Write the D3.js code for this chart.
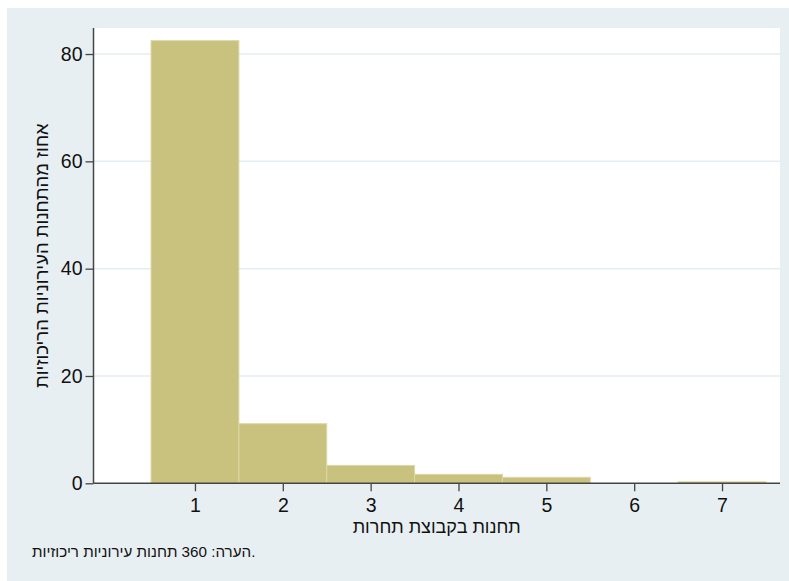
<!DOCTYPE html>
<html><head><meta charset="utf-8">
<script src="https://cdn.jsdelivr.net/npm/d3@7"></script>
<style>body{margin:0;background:#fff;} text{font-family:"Liberation Sans",Arial,sans-serif;fill:#111;}</style>
</head><body>
<svg id="c" width="789" height="581"></svg>
<script>
const categories = [1, 2, 3, 4, 5, 6, 7];
const percents = [82.5, 11.11, 3.33, 1.67, 1.11, 0, 0.28];
const yTicks = [0, 20, 40, 60, 80];
const xTicks = [1, 2, 3, 4, 5, 6, 7];
const yTitle = "אחוז מהתחנות העירוניות הריכוזיות";
const xTitle = "תחנות בקבוצת תחרות";
const note = "הערה: 360 תחנות עירוניות ריכוזיות.";

const svg = d3.select("#c");
const L = 93.5, R = 780, T = 28, B = 483.3;
svg.append("rect").attr("x",7).attr("y",8).attr("width",782).attr("height",573).attr("fill","#e8eff2");
svg.append("rect").attr("x",L).attr("y",T).attr("width",R-L).attr("height",B-T).attr("fill","#fff");

const x = d3.scaleLinear().domain([-0.155, 7.66]).range([L, R]);
const y = d3.scaleLinear().domain([0, 84.85]).range([B, T]);

// gridlines
svg.append("g").selectAll("line").data(yTicks.filter(d=>d>0)).join("line")
  .attr("x1",L).attr("x2",R).attr("y1",d=>y(d)).attr("y2",d=>y(d))
  .attr("stroke","#e4edf1").attr("stroke-width",1.5);

// bars
svg.append("g").selectAll("rect").data(categories.map((c,i)=>({c,v:percents[i]})).filter(d=>d.v>0)).join("rect")
  .attr("x",d=>x(d.c-0.5)).attr("width",d=>x(d.c+0.5)-x(d.c-0.5))
  .attr("y",d=>y(d.v)).attr("height",d=>y(0)-y(d.v))
  .attr("fill","#c9c27f").attr("stroke","#dcd7a6").attr("stroke-width",1);

// axes
const yAxis = d3.axisLeft(y).tickValues(yTicks).tickSize(8).tickPadding(3);
const gy = svg.append("g").attr("transform",`translate(${L},0)`).call(yAxis);
const xAxis = d3.axisBottom(x).tickValues(xTicks).tickSize(8).tickPadding(7);
const gx = svg.append("g").attr("transform",`translate(0,${B})`).call(xAxis);
[gx, gy].forEach(g=>{
  g.attr("font-size",null);
  g.select(".domain").remove();
  g.selectAll(".tick line").attr("stroke","#444").attr("stroke-width",1.3);
  g.selectAll(".tick text").attr("font-size",19.5).attr("fill","#111");
});
svg.append("line").attr("x1",L).attr("x2",L).attr("y1",T).attr("y2",B).attr("stroke","#444").attr("stroke-width",1.5);
svg.append("line").attr("x1",L).attr("x2",R).attr("y1",B).attr("y2",B).attr("stroke","#444").attr("stroke-width",1.5);

// titles
svg.append("text").attr("x",(L+R)/2).attr("y",533).attr("text-anchor","middle").attr("font-size",18).text(xTitle);
svg.append("text").attr("transform",`translate(47.5,${(T+B)/2}) rotate(-90)`).attr("text-anchor","middle").attr("font-size",18.5).text(yTitle);
svg.append("text").attr("x",32).attr("y",557).attr("font-size",15.2).text(note);
</script>
</body></html>
